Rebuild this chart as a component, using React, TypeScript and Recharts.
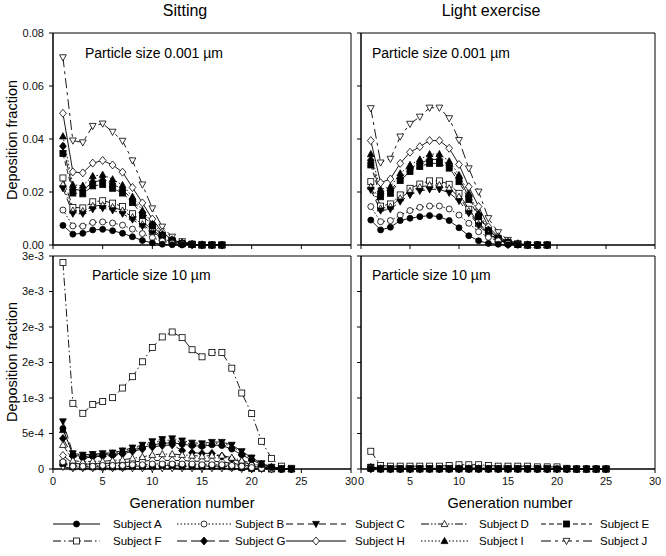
import React from "react";
import { LineChart, Line, XAxis, YAxis, ReferenceArea } from "recharts";

const FONT = '"Liberation Sans", Arial, Helvetica, sans-serif';

// categories
const SUBJECTS = ["A", "B", "C", "D", "E", "F", "G", "H", "I", "J"];
const GEN_17 = [1, 2, 3, 4, 5, 6, 7, 8, 9, 10, 11, 12, 13, 14, 15, 16, 17];
const GEN_19 = [1, 2, 3, 4, 5, 6, 7, 8, 9, 10, 11, 12, 13, 14, 15, 16, 17, 18, 19];
const GEN_24 = [1, 2, 3, 4, 5, 6, 7, 8, 9, 10, 11, 12, 13, 14, 15, 16, 17, 18, 19, 20, 21, 22, 23, 24];
const GEN_25 = [1, 2, 3, 4, 5, 6, 7, 8, 9, 10, 11, 12, 13, 14, 15, 16, 17, 18, 19, 20, 21, 22, 23, 24, 25];

// tick labels
const X_TICKS = [0, 5, 10, 15, 20, 25, 30];
const Y_TICKS_FINE = [0, 0.02, 0.04, 0.06, 0.08];
const Y_LABELS_FINE = ["0.00", "0.02", "0.04", "0.06", "0.08"];
const Y_TICKS_COARSE = [0, 0.0005, 0.001, 0.0015, 0.002, 0.0025, 0.003];
const Y_LABELS_COARSE = ["0", "5e-4", "1e-3", "2e-3", "2e-3", "3e-3", "3e-3"];

// Sitting, particle size 0.001 µm
const sitFineA = [0.0074, 0.0041, 0.0044, 0.0057, 0.0059, 0.0054, 0.0044, 0.0031, 0.0017, 0.0008, 0.0003, 0.0001, 0, 0, 0, 0, 0];
const sitFineB = [0.0132, 0.0072, 0.0071, 0.0085, 0.0087, 0.0083, 0.0075, 0.006, 0.0043, 0.0028, 0.0015, 0.0007, 0.0003, 0.0001, 0, 0, 0];
const sitFineC = [0.0214, 0.0118, 0.0118, 0.0135, 0.0139, 0.0131, 0.0118, 0.0096, 0.0071, 0.0044, 0.0022, 0.0009, 0.0003, 0.0001, 0, 0, 0];
const sitFineD = [0.0228, 0.013, 0.0128, 0.0147, 0.015, 0.0143, 0.013, 0.0105, 0.0078, 0.005, 0.0025, 0.001, 0.0004, 0.0001, 0, 0, 0];
const sitFineE = [0.0345, 0.0196, 0.0193, 0.0223, 0.0228, 0.0214, 0.0196, 0.016, 0.0113, 0.0072, 0.0036, 0.0016, 0.0006, 0.0002, 0, 0, 0];
const sitFineF = [0.0253, 0.0142, 0.014, 0.0163, 0.0167, 0.0158, 0.0145, 0.0118, 0.0088, 0.0058, 0.003, 0.0013, 0.0005, 0.0002, 0, 0, 0];
const sitFineG = [0.0373, 0.021, 0.0206, 0.0238, 0.0244, 0.023, 0.021, 0.017, 0.0122, 0.0078, 0.004, 0.0017, 0.0006, 0.0002, 0, 0, 0];
const sitFineH = [0.0497, 0.0276, 0.0272, 0.0309, 0.0319, 0.0302, 0.0275, 0.0217, 0.0159, 0.0098, 0.0048, 0.002, 0.0008, 0.0003, 0.0001, 0, 0];
const sitFineI = [0.041, 0.0227, 0.0224, 0.026, 0.0265, 0.0248, 0.0226, 0.0182, 0.013, 0.0085, 0.0043, 0.0018, 0.0007, 0.0002, 0, 0, 0];
const sitFineJ = [0.0708, 0.0394, 0.0387, 0.0449, 0.0458, 0.0427, 0.0393, 0.0319, 0.0228, 0.0138, 0.0069, 0.0031, 0.0014, 0.0005, 0.0002, 0.0001, 0];

// Light exercise, particle size 0.001 µm
const exFineA = [0.0094, 0.0057, 0.0067, 0.0092, 0.0101, 0.0107, 0.0111, 0.0107, 0.0092, 0.0065, 0.0035, 0.0016, 0.0006, 0.0003, 0.0001, 0, 0, 0, 0];
const exFineB = [0.0145, 0.0088, 0.0092, 0.0113, 0.013, 0.0142, 0.0147, 0.0147, 0.0136, 0.0113, 0.0082, 0.005, 0.0029, 0.0016, 0.0006, 0.0002, 0, 0, 0];
const exFineC = [0.0208, 0.013, 0.0135, 0.0164, 0.0189, 0.0204, 0.021, 0.021, 0.0197, 0.0166, 0.012, 0.0074, 0.0039, 0.0019, 0.0006, 0.0002, 0, 0, 0];
const exFineD = [0.022, 0.0138, 0.0145, 0.0176, 0.0204, 0.0218, 0.0226, 0.0226, 0.0214, 0.0182, 0.0128, 0.0079, 0.0042, 0.002, 0.0007, 0.0002, 0, 0, 0];
const exFineE = [0.0302, 0.0182, 0.0195, 0.0243, 0.0277, 0.0296, 0.0308, 0.0308, 0.029, 0.0239, 0.0172, 0.0107, 0.0054, 0.0025, 0.0009, 0.0003, 0, 0, 0];
const exFineF = [0.0239, 0.0147, 0.0155, 0.0189, 0.0214, 0.023, 0.0242, 0.0242, 0.0229, 0.0195, 0.0135, 0.0084, 0.0044, 0.0021, 0.0008, 0.0002, 0, 0, 0];
const exFineG = [0.032, 0.0195, 0.0205, 0.0252, 0.029, 0.0308, 0.0323, 0.0323, 0.0302, 0.0252, 0.0182, 0.0113, 0.0057, 0.0026, 0.0009, 0.0003, 0, 0, 0];
const exFineH = [0.0394, 0.0235, 0.0249, 0.0308, 0.035, 0.0371, 0.0394, 0.0394, 0.0365, 0.0304, 0.022, 0.0145, 0.0069, 0.0031, 0.0013, 0.0005, 0.0001, 0, 0];
const exFineI = [0.0343, 0.021, 0.022, 0.027, 0.0302, 0.0323, 0.0343, 0.0343, 0.0316, 0.0264, 0.0195, 0.012, 0.0063, 0.0029, 0.001, 0.0003, 0, 0, 0];
const exFineJ = [0.0516, 0.0311, 0.0325, 0.0409, 0.0457, 0.0484, 0.0518, 0.0518, 0.0478, 0.0396, 0.0289, 0.0201, 0.0101, 0.0048, 0.0019, 0.0006, 0.0001, 0, 0];

// Sitting, particle size 10 µm
const sitCoarseA = [0.00057, 0.0002, 0.00017, 0.00019, 0.0002, 0.0002, 0.00023, 0.00027, 0.0003, 0.00034, 0.00036, 0.00037, 0.00035, 0.00033, 0.00032, 0.00034, 0.00033, 0.00028, 0.0002, 0.00013, 0.00006, 0.00002, 0, 0];
const sitCoarseB = [0.0001, 0.00004, 0.00004, 0.00004, 0.00005, 0.00005, 0.00005, 0.00006, 0.00006, 0.00007, 0.00007, 0.00007, 0.00007, 0.00007, 0.00006, 0.00006, 0.00006, 0.00005, 0.00004, 0.00002, 0.00001, 0, 0, 0];
const sitCoarseC = [0.00067, 0.00022, 0.0002, 0.00021, 0.00022, 0.00023, 0.00026, 0.0003, 0.00034, 0.00039, 0.00042, 0.00043, 0.0004, 0.00037, 0.00036, 0.00038, 0.00038, 0.00034, 0.00025, 0.00016, 0.00008, 0.00003, 0.00001, 0];
const sitCoarseD = [0.00034, 0.00012, 0.0001, 0.00011, 0.00011, 0.00012, 0.00013, 0.00015, 0.00017, 0.0002, 0.00021, 0.00021, 0.0002, 0.00019, 0.00018, 0.00019, 0.00019, 0.00016, 0.00012, 0.00008, 0.00004, 0.00001, 0, 0];
const sitCoarseE = [0.00008, 0.00003, 0.00003, 0.00003, 0.00003, 0.00003, 0.00003, 0.00004, 0.00004, 0.00004, 0.00005, 0.00005, 0.00004, 0.00004, 0.00004, 0.00004, 0.00004, 0.00003, 0.00002, 0.00001, 0.00001, 0, 0, 0];
const sitCoarseF = [0.00291, 0.000925, 0.000784, 0.00091, 0.00095, 0.001005, 0.00114, 0.0013, 0.00151, 0.00171, 0.00186, 0.00193, 0.00185, 0.00168, 0.00158, 0.00164, 0.00164, 0.00142, 0.00107, 0.00078, 0.00039, 0.00015, 0.00004, 0.00001];
const sitCoarseG = [0.00043, 0.00018, 0.00015, 0.00017, 0.00018, 0.00019, 0.00021, 0.00025, 0.00028, 0.00031, 0.00033, 0.00034, 0.00026, 0.00023, 0.00022, 0.00022, 0.00018, 0.00014, 0.0001, 0.00006, 0.00003, 0.00001, 0, 0];
const sitCoarseH = [0.00019, 0.00008, 0.00007, 0.00007, 0.00008, 0.00008, 0.00009, 0.0001, 0.00011, 0.00012, 0.00012, 0.00012, 0.00012, 0.00011, 0.00011, 0.00011, 0.0001, 0.00008, 0.00006, 0.00004, 0.00002, 0.00001, 0, 0];
const sitCoarseI = [0.00055, 0.00021, 0.00019, 0.0002, 0.00021, 0.00022, 0.00025, 0.00029, 0.00033, 0.00037, 0.0004, 0.00041, 0.00038, 0.00035, 0.00034, 0.00036, 0.00036, 0.00032, 0.00023, 0.00015, 0.00007, 0.00003, 0.00001, 0];
const sitCoarseJ = [0.00003, 0.00001, 0.00001, 0.00001, 0.00001, 0.00001, 0.00001, 0.00001, 0.00001, 0.00001, 0.00001, 0.00001, 0.00001, 0.00001, 0.00001, 0.00001, 0.00001, 0.00001, 0, 0, 0, 0, 0, 0];

// Light exercise, particle size 10 µm
const exCoarseA = [0, 0, 0, 0, 0, 0, 0, 0, 0, 0, 0, 0, 0, 0, 0, 0, 0, 0, 0, 0, 0, 0, 0, 0, 0];
const exCoarseB = [0.00001, 0, 0, 0, 0, 0, 0, 0, 0, 0, 0, 0, 0, 0, 0, 0, 0, 0, 0, 0, 0, 0, 0, 0, 0];
const exCoarseC = [0.00003, 0.00001, 0.00001, 0.00001, 0.00001, 0.00001, 0.00001, 0.00001, 0.00001, 0.00001, 0.00001, 0.00001, 0.00001, 0.00001, 0.00001, 0.00001, 0.00001, 0.00001, 0.00001, 0, 0, 0, 0, 0, 0];
const exCoarseD = [0.00002, 0.00001, 0, 0, 0, 0, 0, 0, 0, 0.00001, 0.00001, 0.00001, 0, 0, 0, 0, 0, 0, 0, 0, 0, 0, 0, 0, 0];
const exCoarseE = [0.00001, 0, 0, 0, 0, 0, 0, 0, 0, 0, 0, 0, 0, 0, 0, 0, 0, 0, 0, 0, 0, 0, 0, 0, 0];
const exCoarseF = [0.00025, 0.00005, 0.00004, 0.00004, 0.00004, 0.00004, 0.00004, 0.00004, 0.00005, 0.00006, 0.00006, 0.00006, 0.00005, 0.00004, 0.00004, 0.00004, 0.00004, 0.00003, 0.00003, 0.00003, 0.00001, 0, 0, 0, 0];
const exCoarseG = [0.00002, 0.00001, 0.00001, 0.00001, 0.00001, 0.00001, 0.00001, 0.00001, 0.00001, 0.00001, 0.00001, 0.00001, 0.00001, 0.00001, 0.00001, 0.00001, 0.00001, 0, 0, 0, 0, 0, 0, 0, 0];
const exCoarseH = [0.00001, 0, 0, 0, 0, 0, 0, 0, 0, 0, 0, 0, 0, 0, 0, 0, 0, 0, 0, 0, 0, 0, 0, 0, 0];
const exCoarseI = [0.00002, 0.00001, 0.00001, 0.00001, 0.00001, 0.00001, 0.00001, 0.00001, 0.00001, 0.00001, 0.00001, 0.00001, 0.00001, 0.00001, 0.00001, 0.00001, 0.00001, 0.00001, 0, 0, 0, 0, 0, 0, 0];
const exCoarseJ = [0, 0, 0, 0, 0, 0, 0, 0, 0, 0, 0, 0, 0, 0, 0, 0, 0, 0, 0, 0, 0, 0, 0, 0, 0];

type Shape = "circle" | "square" | "tri" | "tridown" | "diamond";
const STYLE: Record<string, { shape: Shape; filled: boolean; dash?: string }> = {
  A: { shape: "circle", filled: true },
  B: { shape: "circle", filled: false, dash: "1.5 2" },
  C: { shape: "tridown", filled: true, dash: "7 4" },
  D: { shape: "tri", filled: false, dash: "8 2 1.5 2 1.5 2" },
  E: { shape: "square", filled: true, dash: "5 3" },
  F: { shape: "square", filled: false, dash: "8 3 1.5 3" },
  G: { shape: "diamond", filled: true, dash: "10 4" },
  H: { shape: "diamond", filled: false },
  I: { shape: "tri", filled: true, dash: "1.5 2" },
  J: { shape: "tridown", filled: false, dash: "10 4 3 4" },
};

function buildRows(gens: number[], cols: number[][]) {
  return gens.map((g, i) => {
    const row: Record<string, number> = { gen: g };
    SUBJECTS.forEach((s, k) => (row[s] = cols[k][i]));
    return row;
  });
}

const sitFineRows = buildRows(GEN_17, [sitFineA, sitFineB, sitFineC, sitFineD, sitFineE, sitFineF, sitFineG, sitFineH, sitFineI, sitFineJ]);
const exFineRows = buildRows(GEN_19, [exFineA, exFineB, exFineC, exFineD, exFineE, exFineF, exFineG, exFineH, exFineI, exFineJ]);
const sitCoarseRows = buildRows(GEN_24, [sitCoarseA, sitCoarseB, sitCoarseC, sitCoarseD, sitCoarseE, sitCoarseF, sitCoarseG, sitCoarseH, sitCoarseI, sitCoarseJ]);
const exCoarseRows = buildRows(GEN_25, [exCoarseA, exCoarseB, exCoarseC, exCoarseD, exCoarseE, exCoarseF, exCoarseG, exCoarseH, exCoarseI, exCoarseJ]);

function Marker({ cx, cy, shape, filled }: { cx: number; cy: number; shape: Shape; filled: boolean }) {
  const fill = filled ? "#000" : "#fff";
  const common = { fill, stroke: "#000", strokeWidth: 0.8 };
  if (cx == null || cy == null || isNaN(cx) || isNaN(cy)) return <g />;
  switch (shape) {
    case "circle":
      return <circle cx={cx} cy={cy} r={3} {...common} />;
    case "square":
      return <rect x={cx - 3} y={cy - 3} width={6} height={6} {...common} />;
    case "tri":
      return <polygon points={`${cx},${cy - 3.6} ${cx + 3.4},${cy + 2.6} ${cx - 3.4},${cy + 2.6}`} {...common} />;
    case "tridown":
      return <polygon points={`${cx},${cy + 3.6} ${cx + 3.4},${cy - 2.6} ${cx - 3.4},${cy - 2.6}`} {...common} />;
    default:
      return <polygon points={`${cx},${cy - 4} ${cx + 3.4},${cy} ${cx},${cy + 4} ${cx - 3.4},${cy}`} {...common} />;
  }
}

const tickStyle = { fontSize: 11, fill: "#111", fontFamily: FONT };
const noTick = () => <g />;

function Panel(props: {
  x0: number; y0: number; w: number; h: number; rows: Record<string, number>[];
  yMax: number; yTicks: number[]; yLabels: string[]; showX: boolean; showY: boolean; id: string;
}) {
  const { x0, y0, w, h, rows, yMax, yTicks, yLabels, showX, showY, id } = props;
  const ML = 50, MT = 6, MR = 6, XH = 30;
  return (
    <div style={{ position: "absolute", left: x0 - ML, top: y0 - MT }}>
      <LineChart width={w + ML + MR} height={h + MT + XH} data={rows} margin={{ top: MT, right: MR, left: 0, bottom: 0 }}>
        <ReferenceArea x1={0} x2={30} y1={0} y2={yMax} fill="none" stroke="#000" strokeWidth={1} />
        <XAxis dataKey="gen" type="number" domain={[0, 30]} ticks={X_TICKS} interval={0} height={XH}
          tickSize={4} tickMargin={4} stroke="#000" tick={showX ? tickStyle : noTick} />
        <YAxis type="number" domain={[0, yMax]} ticks={yTicks} interval={0} width={ML}
          tickSize={4} tickMargin={5} stroke="#000" tick={showY ? tickStyle : noTick}
          tickFormatter={(v: number) => yLabels[yTicks.indexOf(v)] ?? String(v)} />
        {[...SUBJECTS].reverse().map((s) => (
          <Line key={s} dataKey={s} type="linear" stroke="#000" strokeWidth={0.9}
            strokeDasharray={STYLE[s].dash} activeDot={false} isAnimationActive={false}
            dot={(p: any) => <Marker key={`${id}-${s}-${p.index}`} cx={p.cx} cy={p.cy} shape={STYLE[s].shape} filled={STYLE[s].filled} />} />
        ))}
      </LineChart>
    </div>
  );
}

const LEGEND_COLS = [
  { x1: 53, x2: 100, tx: 113 },
  { x1: 177, x2: 231, tx: 235 },
  { x1: 286, x2: 346, tx: 355 },
  { x1: 421, x2: 468, tx: 479 },
  { x1: 541, x2: 592, tx: 600 },
];
const LEGEND_ROWS = [524, 541];

export default function App() {
  const L1 = 53, R1 = 351, L2 = 361, R2 = 655;
  const T1 = 33, B1 = 245, T2 = 256, B2 = 469;
  return (
    <div style={{ position: "absolute", left: 0, top: 0, width: 666, height: 556, background: "#fff", fontFamily: FONT }}>
      <Panel id="tl" x0={L1} y0={T1} w={R1 - L1} h={B1 - T1} rows={sitFineRows} yMax={0.08} yTicks={Y_TICKS_FINE} yLabels={Y_LABELS_FINE} showX={false} showY={true} />
      <Panel id="tr" x0={L2} y0={T1} w={R2 - L2} h={B1 - T1} rows={exFineRows} yMax={0.08} yTicks={Y_TICKS_FINE} yLabels={Y_LABELS_FINE} showX={false} showY={false} />
      <Panel id="bl" x0={L1} y0={T2} w={R1 - L1} h={B2 - T2} rows={sitCoarseRows} yMax={0.003} yTicks={Y_TICKS_COARSE} yLabels={Y_LABELS_COARSE} showX={true} showY={true} />
      <Panel id="br" x0={L2} y0={T2} w={R2 - L2} h={B2 - T2} rows={exCoarseRows} yMax={0.003} yTicks={Y_TICKS_COARSE} yLabels={Y_LABELS_COARSE} showX={true} showY={false} />
      <svg width={666} height={556} style={{ position: "absolute", left: 0, top: 0, pointerEvents: "none" }} fontFamily={FONT}>
        <text x={185} y={16} fontSize={16} textAnchor="middle" fill="#000">Sitting</text>
        <text x={491} y={16} fontSize={16} textAnchor="middle" fill="#000">Light exercise</text>
        <text x={85} y={58} fontSize={14} fill="#000">Particle size 0.001 µm</text>
        <text x={372} y={58} fontSize={14} fill="#000">Particle size 0.001 µm</text>
        <text x={92} y={280} fontSize={14} fill="#000">Particle size 10 µm</text>
        <text x={372} y={280} fontSize={14} fill="#000">Particle size 10 µm</text>
        <text transform="translate(17,140) rotate(-90)" fontSize={14.5} textAnchor="middle" fill="#000">Deposition fraction</text>
        <text transform="translate(17,362) rotate(-90)" fontSize={14.5} textAnchor="middle" fill="#000">Deposition fraction</text>
        <text x={192} y={508} fontSize={14.5} textAnchor="middle" fill="#000">Generation number</text>
        <text x={510} y={508} fontSize={14.5} textAnchor="middle" fill="#000">Generation number</text>
        {SUBJECTS.map((s, i) => {
          const col = LEGEND_COLS[i % 5];
          const y = LEGEND_ROWS[Math.floor(i / 5)];
          const st = STYLE[s];
          return (
            <g key={s}>
              <line x1={col.x1} x2={col.x2} y1={y} y2={y} stroke="#000" strokeWidth={1} strokeDasharray={st.dash} />
              <Marker cx={(col.x1 + col.x2) / 2} cy={y} shape={st.shape} filled={st.filled} />
              <text x={col.tx} y={y + 4} fontSize={11.5} fill="#000">{`Subject ${s}`}</text>
            </g>
          );
        })}
      </svg>
    </div>
  );
}
